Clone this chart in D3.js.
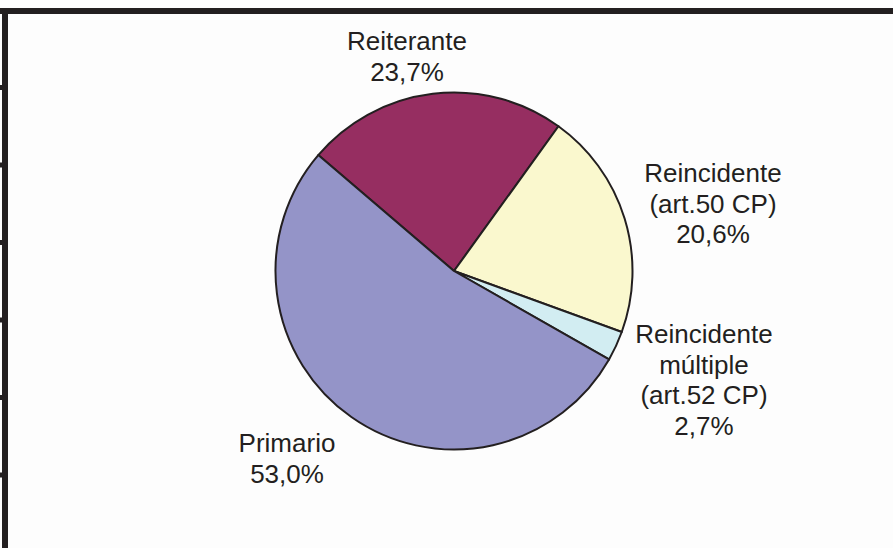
<!DOCTYPE html>
<html>
<head>
<meta charset="utf-8">
<script src="https://cdn.jsdelivr.net/npm/d3@7"></script>
<style>
  html, body { margin: 0; padding: 0; background: #fdfdfd; }
  svg { display: block; }
</style>
</head>
<body>
<script>
const categories = ["Reiterante", "Reincidente (art.50 CP)", "Reincidente múltiple (art.52 CP)", "Primario"];
const values = [23.7, 20.6, 2.7, 53.0];
const labelLines = [
  ["Reiterante", "23,7%"],
  ["Reincidente", "(art.50 CP)", "20,6%"],
  ["Reincidente", "múltiple", "(art.52 CP)", "2,7%"],
  ["Primario", "53,0%"]
];
const colors = ["#962E61", "#FAF8CE", "#D2EDF2", "#9494C8"];
const leftTicks = [0, 1, 2, 3, 4, 5];

const W = 893, H = 548;
const ink = "#231F20";
const svg = d3.select("body").append("svg").attr("width", W).attr("height", H);

svg.append("rect").attr("width", W).attr("height", H).attr("fill", "#fdfdfd");

// frame
svg.append("rect").attr("x", 0).attr("y", 8).attr("width", W).attr("height", 6).attr("fill", ink);
svg.append("rect").attr("x", 2).attr("y", 8).attr("width", 6).attr("height", H - 8).attr("fill", ink);
const tickY = d3.scaleLinear().domain([0, 5]).range([87.5, 475]);
svg.selectAll("rect.tick").data(leftTicks).join("rect")
  .attr("class", "tick")
  .attr("x", 0).attr("width", 4)
  .attr("y", d => tickY(d) - 2.5).attr("height", 5)
  .attr("fill", ink);

// pie
const cx = 454, cy = 271, R = 178.5;
const pie = d3.pie().sort(null).value(d => d)
  .startAngle(-49.5 * Math.PI / 180)
  .endAngle((360 - 49.5) * Math.PI / 180);
const arc = d3.arc().innerRadius(0).outerRadius(R);
const g = svg.append("g").attr("transform", `translate(${cx},${cy})`);
g.selectAll("path").data(pie(values)).join("path")
  .attr("d", arc)
  .attr("fill", (d, i) => colors[i])
  .attr("stroke", ink)
  .attr("stroke-width", 2)
  .attr("stroke-linejoin", "round");

// labels
const labelPos = [
  { x: 407, y: 50 },
  { x: 713, y: 182 },
  { x: 704, y: 343 },
  { x: 287, y: 452 }
];
const lh = 30.6;
labelLines.forEach((lines, i) => {
  const t = svg.append("text")
    .attr("text-anchor", "middle")
    .attr("font-family", "Liberation Sans, Arial, sans-serif")
    .attr("font-size", 26)
    .attr("fill", ink);
  lines.forEach((ln, j) => {
    t.append("tspan").attr("x", labelPos[i].x).attr("y", labelPos[i].y + j * lh).text(ln);
  });
});
</script>
</body>
</html>
